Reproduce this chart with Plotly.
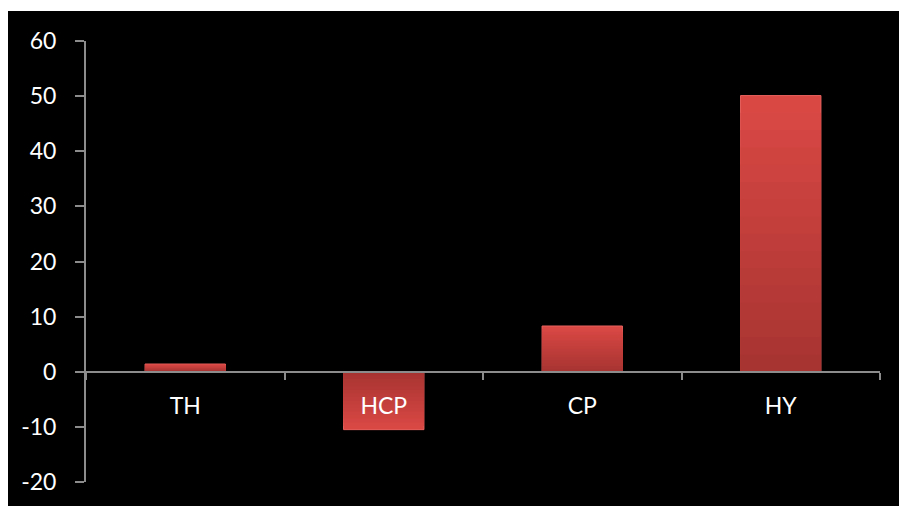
import plotly.graph_objects as go

categories = ["TH", "HCP", "CP", "HY"]
values = [1.4, -10.5, 8.3, 50.1]
y_ticks = [-20, -10, 0, 10, 20, 30, 40, 50, 60]
y_tick_labels = ["-20", "-10", "0", "10", "20", "30", "40", "50", "60"]

W, H = 899, 506
L, R, T, B = 86, 19, 41, 24
pw, ph = W - L - R, H - T - B

top_rgb = (218, 72, 68)
bot_rgb = (168, 52, 50)
N = 16


def mix(t):
    return "rgb(%d,%d,%d)" % tuple(round(b + (a - b) * t) for a, b in zip(top_rgb, bot_rgb))


fig = go.Figure()
for k in range(N, 0, -1):
    t = (k - 1) / (N - 1)
    fig.add_trace(go.Bar(
        x=categories, y=[v * k / N for v in values], width=0.405,
        marker=dict(color=mix(t),
                    line=dict(color="#E8625E" if k == N else mix(t), width=1 if k == N else 0)),
        hoverinfo="skip" if k != N else None,
    ))

fig.update_layout(
    width=W, height=H,
    margin=dict(l=L, r=R, t=T, b=B),
    paper_bgcolor="white", plot_bgcolor="rgba(0,0,0,0)",
    showlegend=False, barmode="overlay",
    font=dict(family="Lato, 'Open Sans', sans-serif", color="white", size=23),
    xaxis=dict(
        type="category", anchor="free", position=20 / 80,
        showline=True, linecolor="#8c8c8c", linewidth=2,
        ticks="outside", tickson="boundaries", ticklen=7, tickwidth=2, tickcolor="#8c8c8c",
        showgrid=False, ticklabelstandoff=14,
        tickfont=dict(size=23, color="white"),
    ),
    yaxis=dict(
        range=[-20, 60], tickvals=y_ticks, ticktext=y_tick_labels,
        showline=True, linecolor="#8c8c8c", linewidth=2,
        ticks="outside", ticklen=9, tickwidth=2, tickcolor="#8c8c8c",
        showgrid=False, zeroline=False, ticklabelstandoff=14,
        tickfont=dict(size=23, color="white"),
    ),
    shapes=[dict(
        type="rect", xref="paper", yref="paper", layer="below",
        x0=(8 - L) / pw, x1=(W - L) / pw,
        y0=-B / ph, y1=(H - 11 - B) / ph,
        fillcolor="black", line=dict(width=0),
    )],
)

fig.write_html("out.html")
